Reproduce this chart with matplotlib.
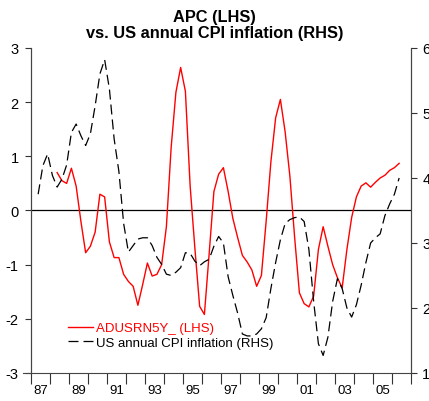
import matplotlib
matplotlib.use("Agg")
import matplotlib.pyplot as plt
import numpy as np

plt.rcParams['font.family'] = ['Liberation Sans', 'DejaVu Sans']
plt.rcParams['axes.unicode_minus'] = False

# quarterly data, first quarter of each series
apc_start = 1988.375
cpi_start = 1987.375

# ADUSRN5Y_ (LHS)
apc = [0.70, 0.55, 0.50, 0.78, 0.45, -0.20, -0.78, -0.66, -0.40, 0.30,
       0.25, -0.58, -0.87, -0.87, -1.18, -1.31, -1.40, -1.75, -1.37, -0.97,
       -1.21, -1.18, -1.00, -0.30, 1.16, 2.18, 2.64, 2.20, 0.45, -0.70,
       -1.77, -1.92, -0.80, 0.35, 0.67, 0.79, 0.35, -0.15, -0.50, -0.83,
       -0.95, -1.10, -1.40, -1.20, -0.20, 0.90, 1.71, 2.05, 1.45, 0.63,
       -0.50, -1.52, -1.72, -1.78, -1.58, -0.72, -0.30, -0.66, -1.00, -1.24,
       -1.43, -0.72, -0.13, 0.25, 0.45, 0.51, 0.43, 0.52, 0.60, 0.65,
       0.74, 0.79, 0.87]

# US annual CPI inflation (RHS)
cpi = [3.75, 4.19, 4.37, 4.04, 3.86, 3.98, 4.20, 4.70, 4.83, 4.65,
       4.50, 4.68, 5.11, 5.60, 5.82, 5.37, 4.60, 4.10, 3.30, 2.86,
       2.96, 3.06, 3.08, 3.08, 2.96, 2.78, 2.67, 2.52, 2.50, 2.55,
       2.62, 2.85, 2.84, 2.72, 2.65, 2.71, 2.75, 2.95, 3.10, 3.00,
       2.48, 2.19, 1.92, 1.60, 1.57, 1.57, 1.60, 1.68, 1.85, 2.30,
       2.70, 3.05, 3.30, 3.36, 3.39, 3.40, 3.33, 2.90, 2.10, 1.45,
       1.27, 1.55, 2.10, 2.45, 2.30, 2.00, 1.86, 2.05, 2.35, 2.70,
       3.00, 3.08, 3.14, 3.42, 3.60, 3.75, 4.00]

year_ticks = list(range(1987, 2008))
year_labels = ['87', '89', '91', '93', '95', '97', '99', '01', '03', '05']

x_apc = apc_start + 0.25 * np.arange(len(apc))
x_cpi = cpi_start + 0.25 * np.arange(len(cpi))

fig = plt.figure(figsize=(4.29, 4.02), dpi=100)
ax = fig.add_axes([0.0723, 0.0697, 0.8858, 0.8085])
ax2 = ax.twinx()

ax.axhline(0, color='black', lw=0.9, zorder=1)
l1, = ax.plot(x_apc, apc, color='red', lw=1.0, label='ADUSRN5Y_ (LHS)')
l2, = ax2.plot(x_cpi, cpi, color='black', lw=0.9, dashes=(8, 4),
               label='US annual CPI inflation (RHS)')

ax.set_xlim(1987, 2007)
ax.set_ylim(-3, 3)
ax2.set_ylim(1, 6)
ax.set_yticks([-3, -2, -1, 0, 1, 2, 3])
ax2.set_yticks([1, 2, 3, 4, 5, 6])

ax.set_xticks(year_ticks)
ax.set_xticklabels([])
ax.set_xticks([y + 0.5 for y in range(1987, 2006, 2)], minor=True)
ax.set_xticklabels(year_labels, minor=True)
ax.tick_params(axis='x', which='major', direction='out', length=8, width=0.8, color='#333333')
ax.tick_params(axis='x', which='minor', length=0, pad=8, labelsize=9.5)
ax.tick_params(axis='y', direction='out', length=4, width=0.8, color='#333333', labelsize=10.5, pad=5)
ax2.tick_params(axis='y', direction='out', length=4, width=0.8, color='#333333', labelsize=10.5, pad=4)

for a in (ax, ax2):
    a.spines['top'].set_visible(False)
    for s in ('left', 'right', 'bottom'):
        a.spines[s].set_color('#444444')
        a.spines[s].set_linewidth(0.8)
ax.spines['bottom'].set_bounds(1986.58, 2007)
ax2.spines['bottom'].set_visible(False)

fig.text(0.5, 0.975, 'APC (LHS)\nvs. US annual CPI inflation (RHS)',
         ha='center', va='top', fontsize=11.8, fontweight='bold', linespacing=1.05)

leg = ax2.legend(handles=[l1, l2], loc='lower left', bbox_to_anchor=(0.08, 0.055),
                 frameon=False, fontsize=9.5, handlelength=1.9, handletextpad=0.2,
                 labelspacing=0.15, borderpad=0)
leg.get_texts()[0].set_color('red')

fig.savefig('out.png', dpi=100)
